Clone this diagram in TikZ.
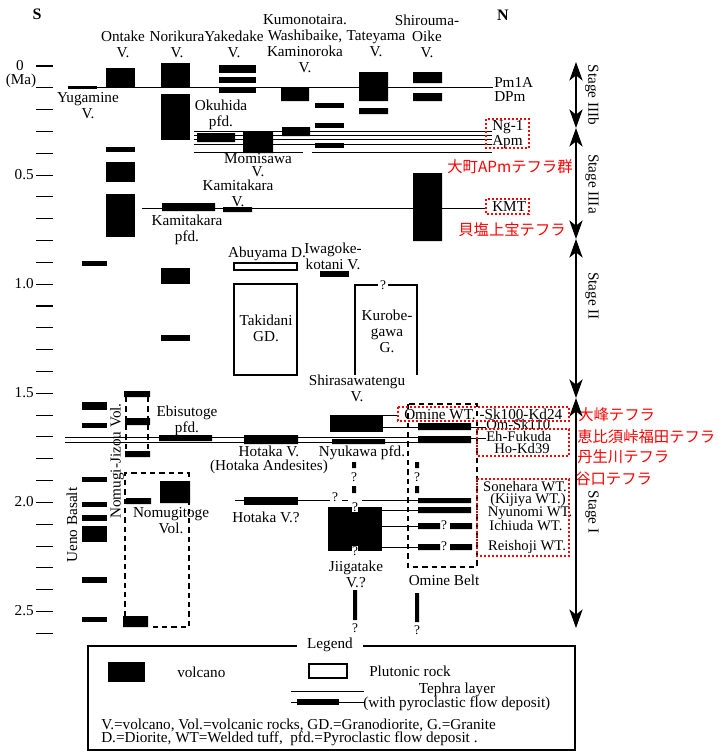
\documentclass[tikz,border=0pt]{standalone}
\usepackage{fontspec}
\setmainfont{Liberation Serif}
\newfontfamily\jpfont{Noto Sans CJK JP}
\usetikzlibrary{arrows.meta}

\begin{document}
\begin{tikzpicture}[
  x=0.75pt, y=-0.75pt,
  >={Stealth[length=14pt, width=10pt, inset=4pt]},
  lbl/.style={font=\fontsize{11.4}{12}\selectfont, align=center, inner sep=0pt},
  side/.style={lbl, anchor=west},
  tight/.style={lbl, font=\fontsize{11}{11}\selectfont, text height=1.35ex, text depth=0.1ex},
  jp/.style={font=\jpfont\fontsize{11.5}{12}\selectfont, text=red, inner sep=0pt},
  qm/.style={font=\fontsize{10}{10}\selectfont, fill=white, inner sep=0.4pt},
  teph/.style={line width=0.7pt},
  pluton/.style={draw, line width=2.2pt},
  belt/.style={line width=0.8pt, dash pattern=on 4pt off 3pt},
  redbox/.style={draw=red, line width=1.5pt, dash pattern=on 1.5pt off 1.5pt},
  tickmark/.style={line width=0.8pt}
]
\useasboundingbox (0,0) rectangle (718,751);

% time axis
\foreach \t in {0,...,26}
  \draw[tickmark] (36,{66+21.82*\t}) -- (53,{66+21.82*\t});
\foreach \v/\y/\n in {0.5/175/a, 1.0/284/b, 1.5/393/c, 2.0/502/d, 2.5/611/e}
  \node[lbl, anchor=east] (tick\n) at (34,\y) {\v};
\node[lbl] (tick0) at (20,66) {0};
\node[lbl] (unit) at (21,81) {(Ma)};
\node[lbl, font=\bfseries\fontsize{12}{12}\selectfont] (south) at (37,14) {S};
\node[lbl, font=\bfseries\fontsize{12}{12}\selectfont] (north) at (503,15) {N};

% column heads
\node[lbl] (ontake) at (123,44) {Ontake\\V.};
\node[lbl] (norikura) at (177,44) {Norikura\\V.};
\node[lbl] (yakedake) at (234,44) {Yakedake\\V.};
\node[lbl] (kumono) at (305,44) {Kumonotaira.\\Washibaike,\\Kaminoroka\\V.};
\node[lbl] (tateyama) at (376,44) {Tateyama\\V.};
\node[lbl] (shirouma) at (427,36) {Shirouma-\\Oike\\V.};

% tephra lines
\draw[teph] (68,87) -- (493,87);
\foreach \y in {131,135,139,144}
  \draw[teph] (194,\y) -- (492,\y);
\draw[teph] (194,152) -- (303,152) (312,152) -- (492,152);
\draw[teph] (142,208) -- (486,208);

% volcanoes, upper part
\fill (68,86) rectangle (97,89);
\foreach \a/\b in {68/87, 147/152, 162/182, 194/237}
  \fill (106,\a) rectangle (135,\b);
\foreach \a/\b in {63/87, 94/140, 268/284, 335/341}
  \fill (161,\a) rectangle (190,\b);
\foreach \a/\b in {65/73, 77/83, 87/93}
  \fill (219,\a) rectangle (256,\b);
\fill (281,87) rectangle (309,101) (282,127) rectangle (310,136);
\foreach \a/\b in {103/108, 123/128, 143/148}
  \fill (315,\a) rectangle (344,\b);
\fill (359,72) rectangle (388,101) (359,108) rectangle (388,114);
\fill (413,72) rectangle (442,83) (413,93) rectangle (442,101) (413,173) rectangle (442,241);
\fill (197,133) rectangle (235,142) (243,131) rectangle (273,153);
\fill (162,203) rectangle (215,211) (223,207) rectangle (252,212);
\fill (320,271) rectangle (349,277);

\node[lbl] (yugamine) at (88,106) {Yugamine\\V.};
\node[lbl] (okuhida) at (221,115) {Okuhida\\pfd.};
\node[lbl] (momisawa) at (258,165) {Momisawa\\[-2.6pt]V.};
\node[lbl] (kamiv) at (238,193) {Kamitakara\\V.};
\node[lbl] (kamipfd) at (187,230) {Kamitakara\\pfd.};

% plutonic rocks
\draw[pluton] (234,263) rectangle (297,270);
\draw[pluton] (234,284) rectangle (297,375);
\draw[pluton] (355,375) -- (355,285) -- (378,285) (388,285) -- (417,285) -- (417,375);
\node[lbl] (abuyama) at (267,254) {Abuyama D.};
\node[lbl] (iwagoke) at (333,256) {Iwagoke-\\kotani V.};
\node[lbl] (takidani) at (266,328) {Takidani\\GD.};
\node[lbl] (kurobe) at (387,331) {Kurobe-\\gawa\\G.};
\node[qm] (qkurobe) at (383,285) {?};

% lower part
\foreach \a/\b in {261/266, 402/410, 423/428, 477/482, 502/507, 515/521, 526/542, 577/583, 617/622}
  \fill (82,\a) rectangle (107,\b);
\draw[teph] (65,437) -- (418,437) (65,442) -- (418,442);
\fill (124,391) rectangle (150,397) (125,418) rectangle (150,425) (125,451) rectangle (150,457);
\draw[belt] (126,397) -- (126,451) (148,397) -- (148,451);
\draw[belt] (125,616) -- (125,473) -- (189,473) -- (189,627) -- (152,627);
\fill (126,498) rectangle (151,504) (160,481) rectangle (190,503) (123,616) rectangle (148,627);
\fill (159,435) rectangle (212,441) (244,435) rectangle (298,444) (332,439) rectangle (385,444);
\fill (330,415) rectangle (383,432);
\draw[teph] (383,415) -- (398,415) (383,427) -- (418,427);

\node[lbl, rotate=90] (ueno) at (72,525) {Ueno Basalt};
\node[lbl, rotate=90] (jizou) at (117,461) {Nomugi-Jizou Vol.};
\node[lbl] (ebisutoge) at (187,421) {Ebisutoge\\pfd.};
\node[lbl] (shirasawa) at (357,388) {Shirasawatengu\\V.};
\node[lbl] (hotaka) at (269,460) {Hotaka V.\\[-1.5pt](Hotaka Andesites)};
\node[lbl] (nyukawa) at (362,453) {Nyukawa pfd.};
\node[lbl] (nomugitoge) at (171,521) {Nomugitoge\\Vol.};

% Hotaka V.? and Jiigatake V.?
\fill (244,497) rectangle (298,505);
\draw[teph] (235,500) -- (330,500) (342,500) -- (348,500) (362,500) -- (418,500);
\node[lbl] (hotakaq) at (266,517) {Hotaka V.?};
\node[qm] (qhotaka) at (335,497) {?};
\fill (328,507) rectangle (382,551);
\node[qm] (qjiitop) at (355,507) {?};
\node[qm] (qjiibot) at (355,551) {?};
\node[lbl] (jiigatake) at (356,574) {Jiigatake\\V.?};
\draw[teph] (382,510) -- (418,510) (382,526) -- (418,526) (382,547) -- (418,547);
\foreach \x in {354,417} {
  \fill ({\x-2},462) rectangle ({\x+2},468) ({\x-2},486) rectangle ({\x+2},493);
  \node[qm, fill=none] (qmid\x) at (\x,477) {?};
}
\fill (353,590) rectangle (357,620) (415,593) rectangle (419,622);
\node[qm] (qjiilow) at (355,628) {?};
\node[qm] (qominelow) at (417,630) {?};

% Omine belt
\draw[belt] (408,404) rectangle (477,567);
\fill (418,423) rectangle (471,430) (418,436) rectangle (471,443);
\fill (418,498) rectangle (471,503) (418,507) rectangle (471,513);
\fill (418,523) rectangle (440,529) (450,523) rectangle (472,529);
\fill (418,544) rectangle (440,550) (450,544) rectangle (472,550);
\node[qm, fill=none] (qich) at (444,525) {?};
\node[qm, fill=none] (qrei) at (444,546) {?};
\draw[teph] (471,427) -- (486,427) (471,438) -- (486,438);
\node[lbl] (ominebelt) at (444,580) {Omine Belt};

% tephra names
\node[side] (pm1a) at (494,82) {Pm1A};
\node[side] (dpm) at (494,97) {DPm};
\node[side] (ng1) at (492,127) {Ng-1};
\node[side] (apm) at (492,142) {Apm};
\node[side] (kmt) at (492,207) {KMT};
\node[side] (ominewt) at (404,414) {Omine WT. -Sk100-Kd24};
\node[tight, anchor=west] (omsk) at (486,426) {Om-Sk110};
\node[tight, anchor=west] (ehfuku) at (486,438) {Eh-Fukuda};
\node[tight] (hokd) at (522,450) {Ho-Kd39};
\node[tight] (sonehara) at (525,488) {Sonehara WT.};
\node[tight] (kijiya) at (528,500) {(Kijiya WT.)};
\node[tight] (nyunomi) at (530,513) {Nyunomi WT.};
\node[tight] (ichiuda) at (526,527) {Ichiuda WT.};
\node[tight] (reishoji) at (527,547) {Reishoji WT.};

% red marks
\draw[redbox] (486,119) rectangle (529,148);
\draw[redbox] (486,199) rectangle (529,214);
\draw[redbox] (398,407) rectangle (569,421);
\draw[redbox] (477,429) rectangle (569,456);
\draw[redbox] (477,479) rectangle (569,556);
\node[jp] (omachi) at (510,167) {大町APmテフラ群};
\node[jp] (kaishio) at (512,230) {貝塩上宝テフラ};
\node[jp, anchor=west] (ominej) at (578,415) {大峰テフラ};
\node[jp, anchor=west] (ebisuj) at (577,437) {恵比須峠福田テフラ};
\node[jp, anchor=west] (nyuj) at (577,457) {丹生川テフラ};
\node[jp, anchor=west] (taniguchij) at (575,479) {谷口テフラ};

% stages
\coordinate (s0) at (576,62);
\coordinate (s1) at (576,128);
\coordinate (s2) at (576,239);
\coordinate (s3) at (576,398);
\coordinate (s4) at (576,628);
\draw[<->, line width=0.8pt] (s0) -- (s1);
\draw[<->, line width=0.8pt] (s1) -- (s2);
\draw[<->, line width=0.8pt] (s2) -- (s3);
\draw[<->, line width=0.8pt] (s3) -- (s4);
\node[lbl, rotate=-90] (st3b) at (592,95) {Stage IIIb};
\node[lbl, rotate=-90] (st3a) at (592,184) {Stage IIIa};
\node[lbl, rotate=-90] (st2) at (592,296) {Stage II};
\node[lbl, rotate=-90] (st1) at (592,512) {Stage I};

% legend
\draw[line width=0.8pt] (88,646) rectangle (575,750);
\node[lbl, fill=white, inner xsep=8pt, inner ysep=1pt] (legend) at (330,645) {Legend};
\fill (108,662) rectangle (145,682);
\node[side] (lvolc) at (177,672) {volcano};
\draw[pluton] (309,664) rectangle (347,678);
\node[side] (lplut) at (369,671) {Plutonic rock};
\draw[teph] (291,691) -- (364,691);
\node[lbl] (lteph) at (457,690) {Tephra layer};
\draw[teph] (291,702) -- (364,702);
\fill (297,699) rectangle (339,705);
\node[side] (lpfd) at (363,704) {(with pyroclastic flow deposit)};
\node[side] (abbr1) at (101,725) {V.=volcano, Vol.=volcanic rocks, GD.=Granodiorite, G.=Granite};
\node[side] (abbr2) at (101,739) {D.=Diorite, WT=Welded tuff,\ \ pfd.=Pyroclastic flow deposit .};
\end{tikzpicture}
\end{document}
